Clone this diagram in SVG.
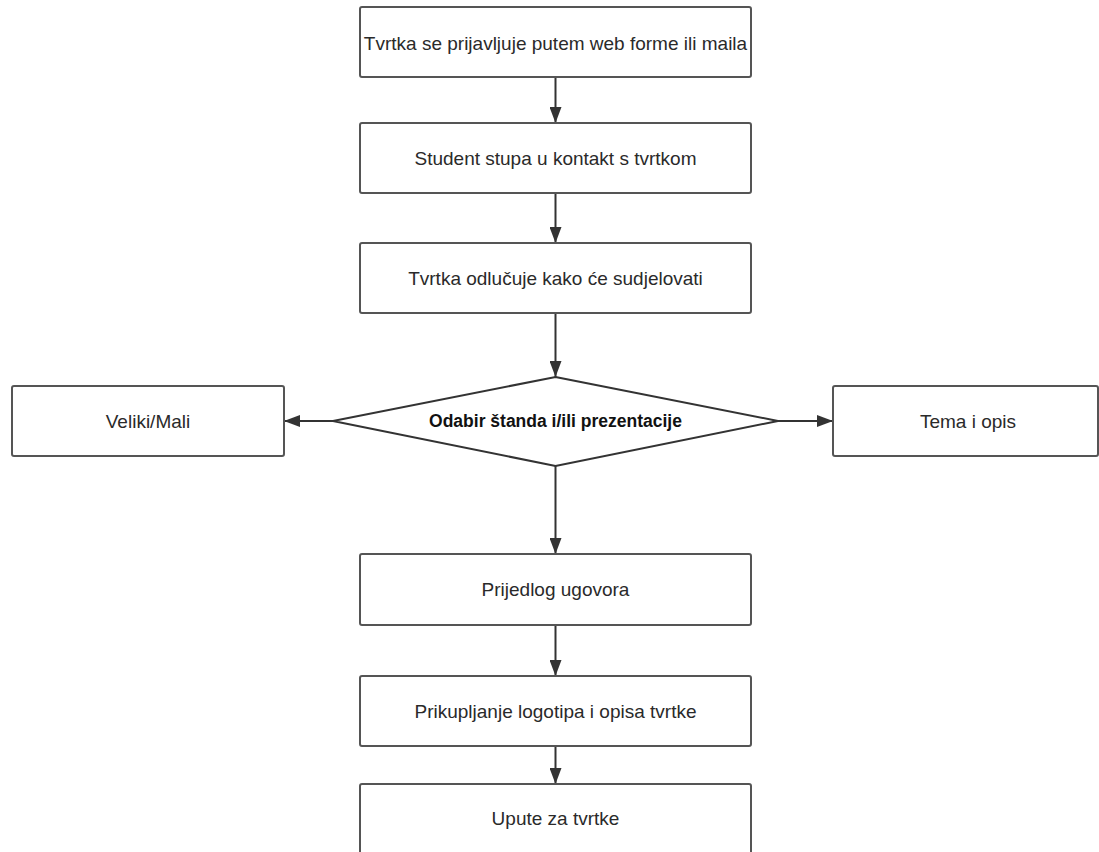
<svg xmlns="http://www.w3.org/2000/svg" width="1099" height="852" viewBox="0 0 1099 852">
<defs>
<marker id="ah" markerWidth="16" markerHeight="12" refX="16" refY="6" orient="auto" markerUnits="userSpaceOnUse">
<path d="M0,0 L16,6 L0,12 Z" fill="#333"/>
</marker>
<style>
.box{fill:#fff;stroke:#555;stroke-width:2}
.t{font-family:"Liberation Sans",Arial,sans-serif;font-size:19px;fill:#2a2a2a;text-anchor:middle;dominant-baseline:central}
.b{font-family:"Liberation Sans",Arial,sans-serif;font-size:17.5px;font-weight:bold;fill:#111;text-anchor:middle;dominant-baseline:central}
.c{stroke:#333;stroke-width:2;fill:none;marker-end:url(#ah)}
</style>
</defs>
<rect width="1099" height="852" fill="#fff"/>
<g id="connectors">
<line class="c" x1="555.5" y1="77" x2="555.5" y2="123"/>
<line class="c" x1="555.5" y1="193" x2="555.5" y2="243"/>
<line class="c" x1="555.5" y1="313" x2="555.5" y2="377"/>
<line class="c" x1="333" y1="421" x2="284" y2="421"/>
<line class="c" x1="778" y1="421" x2="833" y2="421"/>
<line class="c" x1="555.5" y1="466" x2="555.5" y2="554"/>
<line class="c" x1="555.5" y1="625" x2="555.5" y2="676"/>
<line class="c" x1="555.5" y1="746" x2="555.5" y2="784"/>
</g>
<g id="n1"><rect class="box" x="360" y="7" width="391" height="70" rx="2"/><text class="t" x="555.5" y="43">Tvrtka se prijavljuje putem web forme ili maila</text></g>
<g id="n2"><rect class="box" x="360" y="123" width="391" height="70" rx="2"/><text class="t" x="555.5" y="158">Student stupa u kontakt s tvrtkom</text></g>
<g id="n3"><rect class="box" x="360" y="243" width="391" height="70" rx="2"/><text class="t" x="555.5" y="278">Tvrtka odlučuje kako će sudjelovati</text></g>
<g id="n4"><polygon points="555.5,377 778,421 555.5,466 333,421" fill="#fff" stroke="#333" stroke-width="2"/><text class="b" x="555.5" y="421">Odabir štanda i/ili prezentacije</text></g>
<g id="n5"><rect class="box" x="12" y="386" width="272" height="70" rx="2"/><text class="t" x="148" y="421">Veliki/Mali</text></g>
<g id="n6"><rect class="box" x="833" y="386" width="265" height="70" rx="2"/><text class="t" x="968" y="421">Tema i opis</text></g>
<g id="n7"><rect class="box" x="360" y="554" width="391" height="71" rx="2"/><text class="t" x="555.5" y="589">Prijedlog ugovora</text></g>
<g id="n8"><rect class="box" x="360" y="676" width="391" height="70" rx="2"/><text class="t" x="555.5" y="711">Prikupljanje logotipa i opisa tvrtke</text></g>
<g id="n9"><rect class="box" x="360" y="784" width="391" height="80" rx="2"/><text class="t" x="555.5" y="818">Upute za tvrtke</text></g>
</svg>
